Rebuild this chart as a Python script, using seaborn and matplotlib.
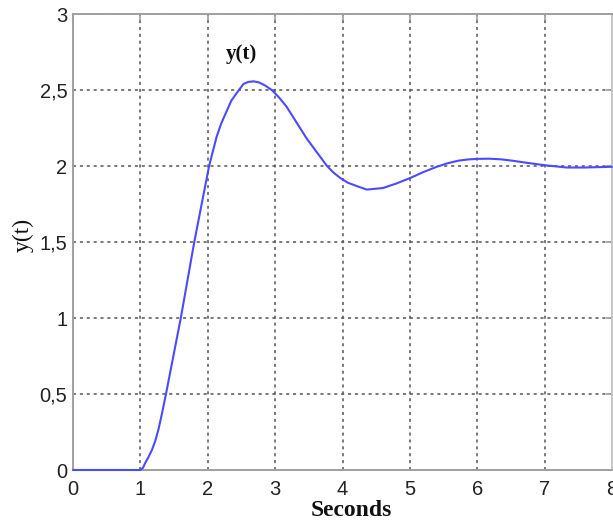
import matplotlib
matplotlib.use("Agg")
import matplotlib.pyplot as plt
import seaborn as sns
import pandas as pd

# data
t_vals = [0.0, 1.0, 1.04, 1.07, 1.12, 1.17, 1.22, 1.27, 1.32, 1.38, 1.6, 1.8, 2.02, 2.13,
          2.2, 2.28, 2.35, 2.43, 2.53, 2.6, 2.68, 2.76, 2.85, 2.95, 3.06, 3.17,
          3.27, 3.37, 3.47, 3.57, 3.67, 3.77, 3.87, 3.97, 4.08, 4.2, 4.36, 4.6,
          4.8, 5.0, 5.2, 5.4, 5.56, 5.72, 5.86, 6.0, 6.18, 6.35, 6.52, 6.69,
          7.0, 7.33, 7.6, 8.0]
y_vals = [0.0, 0.0, 0.015, 0.045, 0.085, 0.13, 0.19, 0.27, 0.37, 0.5, 1.0, 1.5, 2.0, 2.19,
          2.28, 2.36, 2.43, 2.48, 2.54, 2.553, 2.557, 2.55, 2.53, 2.50, 2.45, 2.39,
          2.32, 2.25, 2.18, 2.12, 2.06, 2.0, 1.955, 1.92, 1.89, 1.87, 1.845, 1.855,
          1.885, 1.92, 1.96, 1.995, 2.018, 2.035, 2.043, 2.047, 2.048, 2.044, 2.035, 2.024,
          2.005, 1.99, 1.99, 1.995]
x_ticks = [0, 1, 2, 3, 4, 5, 6, 7, 8]
y_ticks = [0, 0.5, 1, 1.5, 2, 2.5, 3]
y_tick_labels = ["0", "0,5", "1", "1,5", "2", "2,5", "3"]
title_text = "y(t)"
x_label = "Seconds"
y_label = "y(t)"

df = pd.DataFrame({"t": t_vals, "y": y_vals})

sns.set_style("white")
plt.rcParams["font.family"] = ["Liberation Sans", "DejaVu Sans"]

fig = plt.figure(figsize=(6.13, 5.22), dpi=100)
ax = fig.add_axes([73 / 613, 1 - 470 / 522, (612 - 73) / 613, (470 - 14) / 522])

sns.lineplot(data=df, x="t", y="y", ax=ax, color="#4a4aff", linewidth=1.5,
             sort=False, estimator=None)
for ln in ax.lines:
    ln.set_clip_on(False)
    ln.set_zorder(5)

ax.set_xlim(0, 8)
ax.set_ylim(0, 3)
ax.set_xticks(x_ticks)
ax.set_xticklabels([str(v) for v in x_ticks])
ax.set_yticks(y_ticks)
ax.set_yticklabels(y_tick_labels)

ax.grid(True, color="#555555", linestyle=(0, (2, 2.5)), linewidth=1.1)
for s in ax.spines.values():
    s.set_color("#a0a0a0")
    s.set_linewidth(1.4)
    s.set_zorder(4)
ax.spines["right"].set_color("#c8c8c8")

ax.tick_params(axis="both", direction="in", length=4.5, width=1.2,
               color="#a0a0a0", labelsize=14.5, labelcolor="#222222",
               top=True, right=True)
ax.tick_params(axis="x", pad=7)
ax.tick_params(axis="y", pad=4)

ax.set_xlabel(x_label, family="Liberation Serif", fontsize=17, fontweight="bold",
              color="#111111")
ax.xaxis.set_label_coords((351 - 73) / 539, (470 - 500) / 456)
ax.set_ylabel(y_label, family="Liberation Serif", fontsize=17, color="#111111")
ax.yaxis.set_label_coords((34 - 73) / 539, (470 - 235) / 456)

ax.text(2.5, 2.735, title_text, family="Liberation Serif", fontsize=15,
        fontweight="bold", color="#111111", ha="center", va="center")

fig.savefig("out.png", dpi=100)
